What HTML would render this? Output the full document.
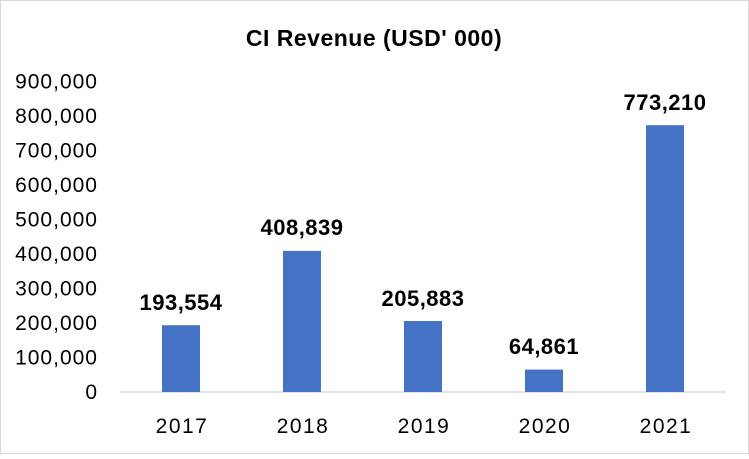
<!DOCTYPE html>
<html><head><style>
body{margin:0;background:#fff}
svg text{font-family:"Liberation Sans",sans-serif}
</style></head><body>
<svg width="749" height="454" xmlns="http://www.w3.org/2000/svg">
<rect x="0.5" y="0.5" width="748" height="453" fill="#fff" stroke="#d9d9d9"/>
<text x="374" y="46" text-anchor="middle" font-size="23" font-weight="bold" fill="#000" letter-spacing="0.5">CI Revenue (USD' 000)</text>
<g font-size="21" fill="#000" text-anchor="end" letter-spacing="1">
<text x="98" y="88.5">900,000</text>
<text x="98" y="123">800,000</text>
<text x="98" y="157.5">700,000</text>
<text x="98" y="192">600,000</text>
<text x="98" y="226.5">500,000</text>
<text x="98" y="261">400,000</text>
<text x="98" y="295.5">300,000</text>
<text x="98" y="330">200,000</text>
<text x="98" y="364.5">100,000</text>
<text x="98" y="399">0</text>
</g>
<line x1="120" y1="392" x2="726" y2="392" stroke="#d9d9d9" stroke-width="1.5"/>
<g fill="#4472c4">
<rect x="162" y="325.2" width="38" height="66.8"/>
<rect x="283" y="250.9" width="38" height="141.1"/>
<rect x="404" y="321" width="38" height="71"/>
<rect x="525" y="369.6" width="38" height="22.4"/>
<rect x="646" y="125.2" width="38" height="266.8"/>
</g>
<g font-size="22" font-weight="bold" text-anchor="middle" fill="#000" letter-spacing="0.5">
<text x="181" y="310">193,554</text>
<text x="302" y="235">408,839</text>
<text x="423" y="306">205,883</text>
<text x="544" y="354">64,861</text>
<text x="665" y="110">773,210</text>
</g>
<g font-size="21" text-anchor="middle" fill="#000" letter-spacing="1.5">
<text x="182" y="433">2017</text>
<text x="303" y="433">2018</text>
<text x="424" y="433">2019</text>
<text x="545" y="433">2020</text>
<text x="666" y="433">2021</text>
</g>
</svg>
</body></html>
